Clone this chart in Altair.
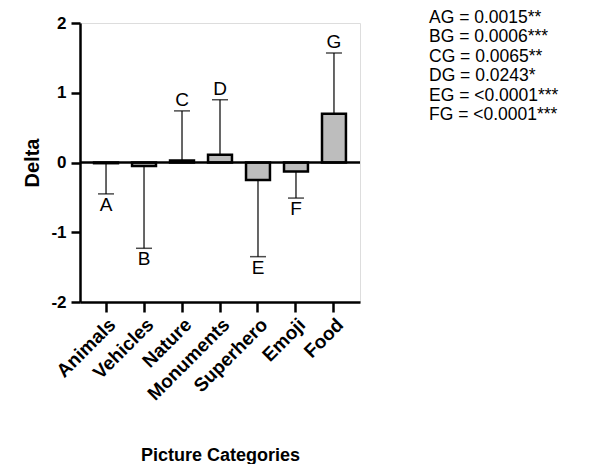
import altair as alt
import pandas as pd

categories = ["Animals", "Vehicles", "Nature", "Monuments", "Superhero", "Emoji", "Food"]
letters = ["A", "B", "C", "D", "E", "F", "G"]
means = [-0.01, -0.05, 0.03, 0.11, -0.25, -0.13, 0.70]
err_ends = [-0.45, -1.23, 0.74, 0.90, -1.35, -0.51, 1.57]
annotations = ["AG = 0.0015**", "BG = 0.0006***", "CG = 0.0065**", "DG = 0.0243*",
               "EG = <0.0001***", "FG = <0.0001***"]
y_ticks = [-2, -1, 0, 1, 2]

df = pd.DataFrame({"cat": categories, "letter": letters, "mean": means, "err": err_ends})
df["pos"] = df["err"] > 0

FONT = "Liberation Sans"
x = alt.X("cat:N", sort=categories, title="Picture Categories",
          scale=alt.Scale(paddingInner=0.37, paddingOuter=0.37),
          axis=alt.Axis(labelAngle=-45, labelFont=FONT, labelFontWeight="bold",
                        labelFontSize=19, labelColor="black", labelPadding=3,
                        tickSize=10, tickWidth=2.5, tickColor="black",
                        domainWidth=2.5, domainColor="black",
                        titleFont=FONT, titleFontSize=18, titleFontWeight="bold",
                        titleColor="black", titlePadding=43))
yscale = alt.Scale(domain=[-2, 2], nice=False)
y_axis = alt.Axis(values=y_ticks, labelFont=FONT, labelFontWeight="bold",
                  labelFontSize=17, labelColor="black", labelPadding=5,
                  labelExpr="datum.value < 0 ? '-' + abs(datum.value) : '' + datum.value",
                  tickSize=9, tickWidth=2.5, tickColor="black",
                  domainWidth=2.5, domainColor="black", grid=False,
                  titleFont=FONT, titleFontSize=20, titleFontWeight="bold",
                  titleColor="black", titlePadding=8)

base = alt.Chart(df)

err_rule = base.mark_rule(color="black", strokeWidth=1.2).encode(
    x=x, y=alt.Y("mean:Q", scale=yscale, axis=y_axis, title="Delta"), y2="err:Q")
caps = base.mark_tick(color="black", size=16, thickness=1.5).encode(x=x, y=alt.Y("err:Q", scale=yscale))
bars = base.mark_bar(fill="#bdbdbd", stroke="black", strokeWidth=2.5).encode(
    x=x, y=alt.Y("mean:Q", scale=yscale), y2=alt.datum(0))
zero = alt.Chart(pd.DataFrame({"z": [0]})).mark_rule(color="black", strokeWidth=2.5).encode(
    y=alt.Y("z:Q", scale=yscale))
lab_pos = base.transform_filter("datum.pos").mark_text(
    font=FONT, fontSize=19, baseline="bottom", dy=-1, color="black").encode(
    x=x, y=alt.Y("err:Q", scale=yscale), text="letter:N")
lab_neg = base.transform_filter("!datum.pos").mark_text(
    font=FONT, fontSize=19, baseline="top", dy=2, color="black").encode(
    x=x, y=alt.Y("err:Q", scale=yscale), text="letter:N")

ann = alt.Chart(pd.DataFrame({"k": [0]})).mark_text(
    font=FONT, fontSize=17.5, align="left", baseline="top", lineHeight=19.4,
    color="black", text=annotations).encode(
    x=alt.value(349), y=alt.value(-14))

chart = alt.layer(err_rule, bars, caps, zero, lab_pos, lab_neg, ann).properties(
    width=280, height=279,
    autosize=alt.AutoSizeParams(type="none"),
    padding={"left": 72, "top": 15, "right": 229, "bottom": 162},
).configure_view(stroke=None).configure(background="white")

chart.save("out.html", embed_options={"renderer": "svg", "actions": False})
